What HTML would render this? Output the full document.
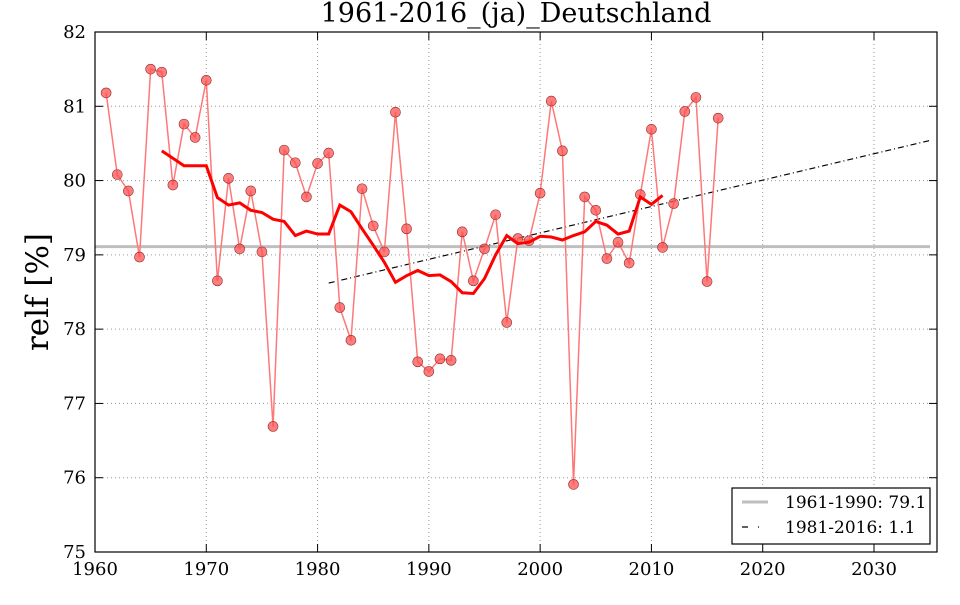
<!DOCTYPE html>
<html><head><meta charset="utf-8"><style>
body{margin:0;background:#fff;width:960px;height:600px;overflow:hidden}
svg text{font-family:"DejaVu Serif","Liberation Serif",serif}
</style></head><body>
<svg id="s" width="960" height="600" xmlns="http://www.w3.org/2000/svg"></svg>
<script>
const s=document.getElementById('s');
const X=y=>95+(y-1960)*(874-95)/70, Y=v=>32+(82-v)*(520/7);
let h='';
const data=[81.18,80.08,79.86,78.97,81.5,81.46,79.94,80.76,80.58,81.35,78.65,80.03,79.08,79.86,79.04,76.69,80.41,80.24,79.78,80.23,80.37,78.29,77.85,79.89,79.39,79.04,80.92,79.35,77.56,77.43,77.60,77.58,79.31,78.65,79.08,79.54,78.09,79.22,79.19,79.83,81.07,80.40,75.91,79.78,79.60,78.95,79.17,78.89,79.81,80.69,79.10,79.69,80.93,81.12,78.64,80.84];
const ma=[80.4,80.3,80.2,80.2,80.2,79.77,79.67,79.7,79.6,79.57,79.48,79.45,79.26,79.32,79.28,79.28,79.67,79.58,79.35,79.13,78.9,78.63,78.72,78.79,78.72,78.73,78.64,78.49,78.48,78.68,79.0,79.26,79.15,79.17,79.25,79.24,79.2,79.26,79.31,79.45,79.4,79.28,79.32,79.78,79.68,79.8];
for(let y=1970;y<=2030;y+=10)h+=`<line x1="${X(y)}" y1="32" x2="${X(y)}" y2="552" stroke="#999" stroke-dasharray="1,3"/>`;
for(let v=76;v<=81;v++)h+=`<line x1="95" y1="${Y(v)}" x2="937" y2="${Y(v)}" stroke="#999" stroke-dasharray="1,3"/>`;
h+=`<line x1="95" y1="${Y(79.11)}" x2="930" y2="${Y(79.11)}" stroke="#bfbfbf" stroke-width="3"/>`;
h+=`<line x1="${X(1981)}" y1="${Y(78.62)}" x2="930" y2="${Y(80.54)}" stroke="#000" stroke-width="1.2" stroke-dasharray="6,3,1,3"/>`;
h+=`<polyline fill="none" stroke="#ff7878" stroke-width="1.5" points="${data.map((v,i)=>X(1961+i)+','+Y(v)).join(' ')}"/>`;
data.forEach((v,i)=>h+=`<circle cx="${X(1961+i)}" cy="${Y(v)}" r="5" fill="#ff5050" fill-opacity="0.75" stroke="#903030" stroke-width="0.6"/>`);
h+=`<polyline fill="none" stroke="#ff0000" stroke-width="3" points="${ma.map((v,i)=>X(1966+i)+','+Y(v)).join(' ')}"/>`;
h+=`<rect x="95" y="32" width="842" height="520" fill="none" stroke="#000" stroke-width="1.2"/>`;
for(let y=1960;y<=2030;y+=10){const x=X(y);h+=`<line x1="${x}" y1="552" x2="${x}" y2="544" stroke="#000"/><line x1="${x}" y1="32" x2="${x}" y2="40" stroke="#000"/><text x="${x}" y="575" font-size="18" text-anchor="middle">${y}</text>`;}
for(let v=75;v<=82;v++){const y=Y(v);h+=`<line x1="95" y1="${y}" x2="103" y2="${y}" stroke="#000"/><line x1="937" y1="${y}" x2="929" y2="${y}" stroke="#000"/><text x="86" y="${y+6}" font-size="18" text-anchor="end">${v}</text>`;}
h+=`<text x="516" y="22" font-size="27" text-anchor="middle">1961-2016_(ja)_Deutschland</text>`;
h+=`<text transform="translate(48,292) rotate(-90)" font-size="31" text-anchor="middle">relf [%]</text>`;
h+=`<rect x="732" y="488" width="198" height="56" fill="#fff" stroke="#000" stroke-width="1.2"/>`;
h+=`<line x1="742" y1="502" x2="768" y2="502" stroke="#bfbfbf" stroke-width="3"/><text x="785" y="508" font-size="17">1961-1990: 79.1</text>`;
h+=`<line x1="742" y1="527" x2="768" y2="527" stroke="#000" stroke-width="1.2" stroke-dasharray="6,10,1,30"/><text x="785" y="533" font-size="17">1981-2016: 1.1</text>`;
s.innerHTML=h;
</script>
</body></html>
